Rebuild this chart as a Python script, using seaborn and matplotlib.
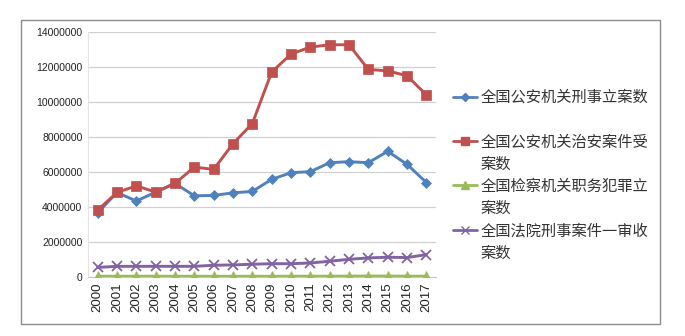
import matplotlib
matplotlib.use("Agg")
import matplotlib.pyplot as plt
from matplotlib.lines import Line2D
from matplotlib.patches import Rectangle
import seaborn as sns
import pandas as pd

years = [str(y) for y in range(2000, 2018)]
series_names = ["全国公安机关刑事立案数", "全国公安机关治安案件受案数",
                "全国检察机关职务犯罪立案数", "全国法院刑事案件一审收案数"]
legend_lines = [["全国公安机关刑事立案数", ""],
                ["全国公安机关治安案件受", "案数"],
                ["全国检察机关职务犯罪立", "案数"],
                ["全国法院刑事案件一审收", "案数"]]
criminal = [3670000, 4830000, 4340000, 4850000, 5350000, 4640000, 4660000, 4810000, 4890000,
            5580000, 5960000, 6020000, 6530000, 6590000, 6530000, 7180000, 6440000, 5400000]
public_order = [3820000, 4830000, 5210000, 4850000, 5350000, 6280000, 6150000, 7620000, 8770000,
                11710000, 12740000, 13140000, 13270000, 13270000, 11860000, 11780000, 11500000, 10410000]
procuratorate = [45000, 45000, 44000, 43000, 43000, 41000, 40000, 40000, 41000,
                 41000, 44000, 44000, 47000, 51000, 55000, 54000, 47000, 46000]
court = [550000, 610000, 610000, 610000, 610000, 610000, 670000, 690000, 730000,
         760000, 760000, 800000, 900000, 1010000, 1090000, 1130000, 1110000, 1280000]
yticks = list(range(0, 14000001, 2000000))

colors = ["#4F81BD", "#C0504D", "#9BBB59", "#8064A2"]
markers = ["D", "s", "^", "x"]
msizes = [5.5, 7, 7, 6.5]

df = pd.DataFrame({
    "year": years * 4,
    "value": criminal + public_order + procuratorate + court,
    "series": sum([[n] * len(years) for n in series_names], []),
})

sns.set_style("white")
plt.rcParams["font.family"] = ["Liberation Sans", "Noto Sans CJK SC", "DejaVu Sans"]

fig = plt.figure(figsize=(6.85, 3.36), dpi=100)
ax = fig.add_axes([88 / 685, 1 - 277 / 336, 348 / 685, 245 / 336])

for name, c, m, ms in zip(series_names, colors, markers, msizes):
    sub = df[df["series"] == name]
    sns.lineplot(data=sub, x="year", y="value", ax=ax, color=c, marker=m,
                 markersize=ms, markeredgecolor=c, markeredgewidth=1.3 if m == "x" else 0.5,
                 linewidth=2.1, label=name, legend=False, zorder=3)

ax.set_xlim(-0.5, len(years) - 0.5)
ax.set_ylim(0, 14000000)
ax.set_yticks(yticks)
ax.set_yticklabels([str(v) for v in yticks], fontsize=7.5, color="#222222")
ax.set_xticks(range(len(years)))
ax.set_xticklabels(years, rotation=90, fontsize=9.5, color="#222222")
ax.set_xlabel("")
ax.set_ylabel("")
ax.yaxis.grid(True, color="#D0D0D0", linewidth=0.9)
ax.xaxis.grid(False)
ax.set_axisbelow(True)
for s in ["top", "right"]:
    ax.spines[s].set_visible(False)
ax.spines["left"].set_color("#E4E4E4")
ax.spines["bottom"].set_color("#C8C8C8")
ax.tick_params(axis="both", length=0, pad=4)

# Legend
line_handles = [l for l in ax.get_lines()]
handles, labels = [], []
blank = Line2D([], [], linestyle="none", marker=None)
for h, (l1, l2) in zip(line_handles, legend_lines):
    proxy = Line2D([], [], color=h.get_color(), marker=h.get_marker(),
                   markersize=h.get_markersize() * 0.8, markeredgecolor=h.get_color(),
                   linewidth=2.0)
    handles += [proxy, blank]
    labels += [l1, l2]
fig.legend(handles, labels, loc="upper left", bbox_to_anchor=(453 / 685, 1 - 89 / 336),
           frameon=False, borderpad=0, borderaxespad=0, handlelength=1.55,
           handletextpad=0.25, labelspacing=0.34,
           prop={"family": ["Noto Sans CJK SC", "DejaVu Sans"], "size": 11},
           labelcolor="#333333")

fig.patches.append(Rectangle((21 / 685, 1 - 324 / 336), 639 / 685, 304 / 336,
                             transform=fig.transFigure, fill=False,
                             edgecolor="#8C8C8C", linewidth=1.0))

fig.savefig("out.png", dpi=100)
